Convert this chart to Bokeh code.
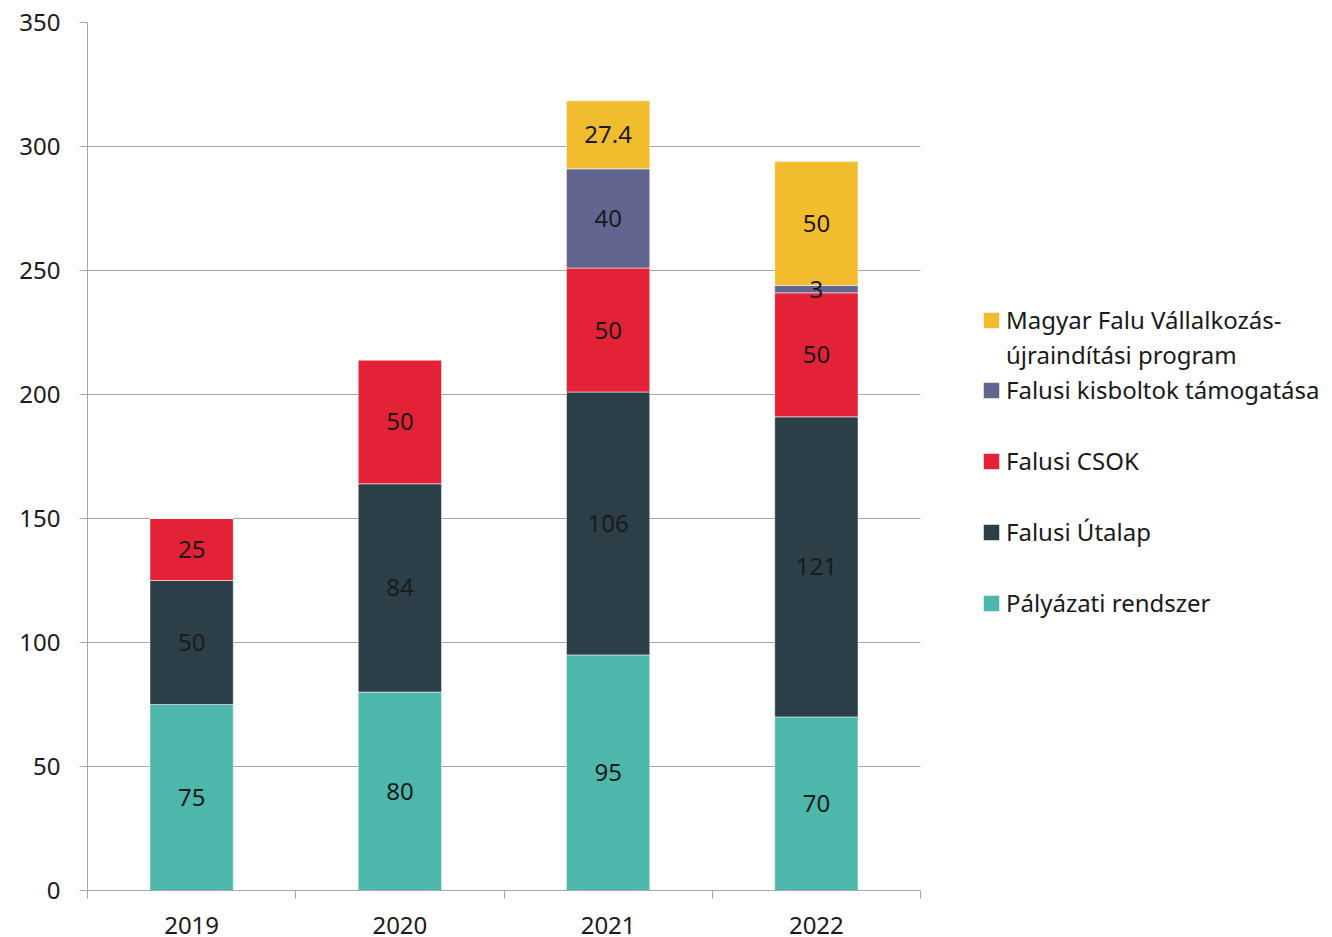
from bokeh.plotting import figure
from bokeh.models import ColumnDataSource, Legend, LegendItem, FixedTicker, Range1d
from bokeh.embed import file_html
from bokeh.resources import INLINE
from bokeh.core.properties import value

# ---- data ----
years = ["2019", "2020", "2021", "2022"]
palyazati = [75, 80, 95, 70]
utalap = [50, 84, 106, 121]
csok = [25, 50, 50, 50]
kisboltok = [0, 0, 40, 3]
magyar_falu = [0, 0, 27.4, 50]
series_keys = ["palyazati", "utalap", "csok", "kisboltok", "magyar_falu"]
series_names = ["Pályázati rendszer", "Falusi Útalap", "Falusi CSOK",
                "Falusi kisboltok támogatása",
                ["Magyar Falu Vállalkozás-", "újraindítási program"]]
colors = ["#4db7ac", "#2c3e48", "#e32237", "#626590", "#f2bc2f"]
y_ticks = [0, 50, 100, 150, 200, 250, 300, 350]

FONT = "Noto Sans"
FS = "24px"
TXT = "#1a1a1a"
GRID = "#a6a6a6"

W, H = 1332, 937
LEFT, TOP, BOTTOM = 87, 22, 47
PLOT_W = 833  # width of the bar area in pixels

series_values = [palyazati, utalap, csok, kisboltok, magyar_falu]
n = len(years)
x_centers = [i + 0.5 for i in range(n)]
data = dict(x=x_centers, year=years)
for k, v in zip(series_keys, series_values):
    data[k] = v
source = ColumnDataSource(data)

# segment labels
lx, ly, lt = [], [], []
for i in range(n):
    base = 0
    for vals in series_values:
        v = vals[i]
        if v > 0:
            lx.append(x_centers[i])
            ly.append(base + v / 2)
            lt.append(f"{v:g}")
        base += v
label_src = ColumnDataSource(dict(x=lx, y=ly, text=lt))

frame_w = W - LEFT
p = figure(width=W, height=H, output_backend="svg", toolbar_location=None,
           x_range=Range1d(0, n * frame_w / PLOT_W), y_range=Range1d(0, 350),
           min_border_left=LEFT, min_border_right=0, min_border_top=TOP,
           min_border_bottom=BOTTOM)
p.outline_line_color = None
p.background_fill_color = "white"
p.border_fill_color = "white"

# horizontal grid lines limited to the bar area
grid = p.ygrid[0]
if "cross_bounds" in grid.properties():
    grid.cross_bounds = (0, n)
    grid.grid_line_color = GRID
    grid.grid_line_width = 1
else:
    grid.visible = False
    p.segment(x0=[0] * len(y_ticks), x1=[n] * len(y_ticks), y0=y_ticks, y1=y_ticks,
              line_color=GRID, line_width=1)

rs = p.vbar_stack(series_keys, x="x", width=0.4, color=colors, source=source,
                  line_color="white", line_alpha=0.5, line_width=1)
# invisible renderer used for the wrapped second line of a legend label
blank = p.scatter(x=[], y=[], fill_alpha=0, line_alpha=0)

p.text(x="x", y="y", text="text", source=label_src, text_align="center",
       text_baseline="middle", text_font=value(FONT), text_font_size=FS,
       text_color=TXT)

# axes
p.xgrid.visible = False
p.yaxis.ticker = FixedTicker(ticks=y_ticks)
p.yaxis.axis_line_color = GRID
p.yaxis.major_tick_line_color = GRID
p.yaxis.major_tick_out = 8
p.yaxis.major_tick_in = 0
p.yaxis.minor_tick_out = 0
p.yaxis.minor_tick_in = 0
p.yaxis.major_label_standoff = 19

p.xaxis.ticker = FixedTicker(ticks=x_centers, minor_ticks=list(range(n + 1)))
p.xaxis.major_label_overrides = {xc: y for xc, y in zip(x_centers, years)}
p.xaxis.bounds = (0, n)
p.xaxis.axis_line_color = GRID
p.xaxis.major_tick_out = 0
p.xaxis.major_tick_in = 0
p.xaxis.minor_tick_out = 8
p.xaxis.minor_tick_in = 0
p.xaxis.minor_tick_line_color = GRID
p.xaxis.major_label_standoff = 18

for ax in (p.xaxis, p.yaxis):
    ax.major_label_text_font = FONT
    ax.major_label_text_font_size = FS
    ax.major_label_text_color = TXT

# legends
leg_common = dict(glyph_width=20, glyph_height=20, label_standoff=5,
                  label_text_font=FONT, label_text_font_size=FS,
                  label_text_color=TXT, border_line_color=None,
                  background_fill_alpha=0, padding=0, margin=0,
                  label_height=33)

leg_a = Legend(items=[LegendItem(label=series_names[4][0], renderers=[rs[4]]),
                      LegendItem(label=series_names[4][1], renderers=[blank]),
                      LegendItem(label=series_names[3], renderers=[rs[3]])],
               location=(894, 484), spacing=2, **leg_common)
leg_b = Legend(items=[LegendItem(label=series_names[k], renderers=[rs[k]]) for k in (2, 1, 0)],
               location=(894, 271), spacing=38, **leg_common)
p.add_layout(leg_a)
p.add_layout(leg_b)

open("out.html", "w").write(file_html(p, INLINE))
